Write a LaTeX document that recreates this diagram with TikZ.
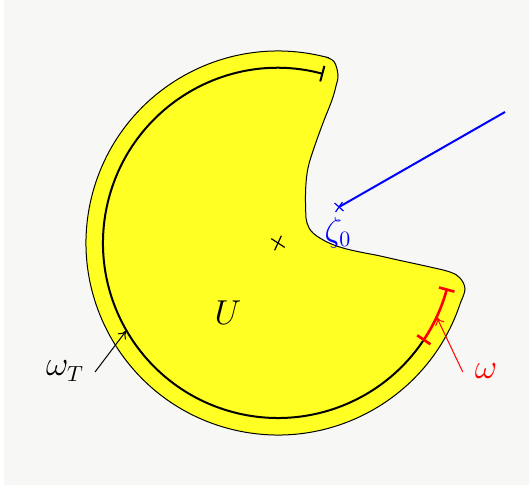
\documentclass[tikz,border=0pt]{standalone}
\usetikzlibrary{arrows.meta}
\definecolor{bggray}{RGB}{247,247,245}
\definecolor{fillyel}{RGB}{255,255,35}
\begin{document}
\begin{tikzpicture}[x=0.5pt,y=0.5pt, font=\fontsize{16}{19}\selectfont,
  outline/.style={draw=black, line width=0.5pt, fill=fillyel},
  crossmark/.style={line width=0.6pt},
  pointer/.style={line width=0.5pt, -{To[length=4pt,width=5pt]}}]
\useasboundingbox (-278,-246) rectangle (251,243);
\fill[white] (-278,-246) rectangle (251,243);
\fill[bggray] (-274,-242) rectangle (251,243);

% domain
\draw[outline] (76:192) arc[start angle=76,end angle=342,radius=192]
  -- plot[smooth,tension=0.6] coordinates {(182.6,-59.3) (187,-46) (182,-35) (172,-29) (152,-24) (120,-17) (100,-12.5) (82,-9) (65,-5) (49,1) (35,10) (29,20) (27.7,32) (27.7,55) (30,75) (36,95) (45,120) (54,143) (58,157) (60,168) (56,181.5) (46.4,186.3)} -- cycle;

% arcs
\draw[line width=1pt, {Bar[width=8pt]}-] (75:175) arc[start angle=75,end angle=326,radius=175];
\draw[red, line width=1.3pt, {Bar[width=8pt]}-{Bar[width=8pt]}] (-34:175) arc[start angle=-34,end angle=-15,radius=175];

% centre cross
\coordinate (O) at (0,0);
\draw[crossmark] (O) ++(-33:8) -- ++(147:16);
\draw[crossmark] (O) ++(65:8) -- ++(245:16);

% zeta_0
\coordinate (zp) at (61,36);
\coordinate (far) at (227,131);
\draw[blue, line width=1pt] (far) -- (zp);
\draw[blue, crossmark] (zp) ++(-42:6) -- ++(138:12);
\draw[blue, crossmark] (zp) ++(55:6) -- ++(235:12);
\node[blue] (z0) at (60,10) {$\zeta_0$};

% labels
\node (U) at (-50,-70) {$U$};
\node[red] (om) at (208,-128) {$\omega$};
\node (omT) at (-213,-128) {$\omega_T$};

\coordinate (pw) at (-25:175);
\coordinate (pT) at (210:175);
\draw[pointer, red] (om.west) ++(-5,-1) -- (pw);
\draw[pointer] (omT.east) ++(4,-1) -- (pT);
\end{tikzpicture}
\end{document}
